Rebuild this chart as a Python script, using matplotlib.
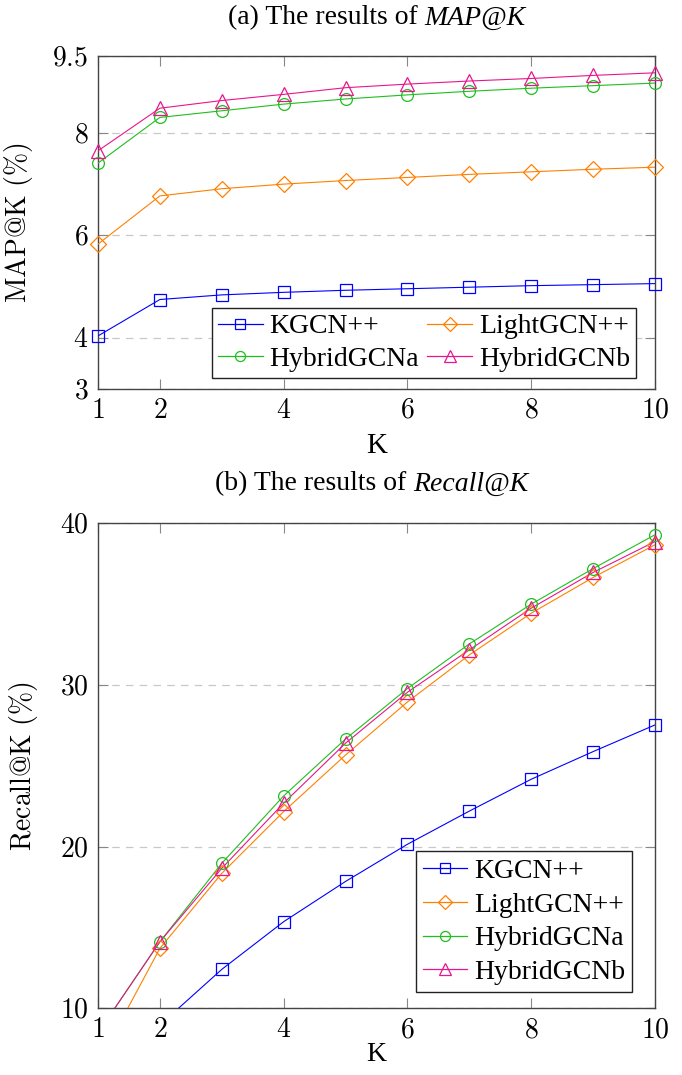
import numpy as np
import matplotlib
matplotlib.use('Agg')
import matplotlib.pyplot as plt
from matplotlib.lines import Line2D

plt.rcParams['font.family'] = ['Liberation Serif', 'DejaVu Serif']
plt.rcParams['mathtext.fontset'] = 'cm'

# data
k = [1, 2, 3, 4, 5, 6, 7, 8, 9, 10]
names = ['KGCN++', 'LightGCN++', 'HybridGCNa', 'HybridGCNb']

map_kgcn = [4.04, 4.75, 4.84, 4.89, 4.93, 4.96, 4.99, 5.02, 5.04, 5.06]
map_light = [5.83, 6.77, 6.91, 7.00, 7.07, 7.13, 7.19, 7.24, 7.29, 7.33]
map_hyba = [7.41, 8.30, 8.43, 8.56, 8.66, 8.74, 8.81, 8.87, 8.92, 8.97]
map_hybb = [7.65, 8.48, 8.63, 8.75, 8.88, 8.95, 9.01, 9.06, 9.12, 9.17]

rec_kgcn = [5.5, 8.97, 12.41, 15.36, 17.85, 20.15, 22.2, 24.17, 25.88, 27.53]
rec_light = [6.58, 13.71, 18.35, 22.17, 25.67, 28.95, 31.86, 34.44, 36.65, 38.67]
rec_hyba = [8.48, 14.12, 18.97, 23.14, 26.66, 29.78, 32.54, 35.0, 37.2, 39.29]
rec_hybb = [8.48, 14.12, 18.66, 22.69, 26.4, 29.55, 32.17, 34.75, 36.96, 38.87]

xticks = [1, 2, 4, 6, 8, 10]
map_yticks = [3, 4, 6, 8, 9.5]
rec_yticks = [10, 20, 30, 40]

colors = ['#0000ff', '#ff8000', '#1fbf1f', '#e8168c']
markers = ['s', 'D', 'o', '^']
msizes = [9, 8, 8.5, 10]

fig = plt.figure(figsize=(6.82, 10.75), dpi=100)
ax1 = fig.add_axes([0.1437, 0.6379, 0.8167, 0.3101])
ax2 = fig.add_axes([0.1437, 0.0620, 0.8167, 0.4512])


def style(ax, yticks, ylim):
    ax.set_xlim(1, 10)
    ax.set_ylim(*ylim)
    ax.set_xticks(xticks)
    ax.set_xticklabels([f'${t}$' for t in xticks])
    ax.set_yticks(yticks)
    ax.set_yticklabels([f'${t}$' for t in yticks])
    ax.tick_params(direction='in', length=7, width=0.8, color='#888888',
                   top=True, right=True, labelsize=20, pad=7)
    ax.yaxis.grid(True, linestyle=(0, (6, 5)), color='#c8c8c8', linewidth=0.9)
    ax.set_axisbelow(True)
    for s in ax.spines.values():
        s.set_color('#444444')
        s.set_linewidth(1.0)


def draw(ax, series, lo):
    for vals, c, m, ms in zip(series, colors, markers, msizes):
        vals = np.array(vals)
        ax.plot(k, vals, color=c, lw=0.8, zorder=3)
        keep = vals >= lo
        ax.plot(np.array(k)[keep], vals[keep], ls='none', marker=m, ms=ms,
                mfc='none', mec=c, mew=0.9, clip_on=False, zorder=4)


style(ax1, map_yticks, (3, 9.5))
draw(ax1, [map_kgcn, map_light, map_hyba, map_hybb], 3)
style(ax2, rec_yticks, (10, 40))
draw(ax2, [rec_kgcn, rec_light, rec_hyba, rec_hybb], 10)

handles = [Line2D([], [], color=c, lw=0.9, marker=m, ms=ms * 0.85, mfc='none', mec=c, mew=0.9)
           for c, m, ms in zip(colors, markers, msizes)]

# row-wise order for the two-column legend
order = [0, 2, 1, 3]
leg1 = ax1.legend([handles[i] for i in order], [names[i] for i in order], ncol=2,
                  loc='lower right', bbox_to_anchor=(0.966, 0.034),
                  borderaxespad=0, fontsize=20, handlelength=1.6, handletextpad=0.25,
                  columnspacing=0.3, labelspacing=0.25, borderpad=0.22, fancybox=False,
                  framealpha=1, edgecolor='#222222')
leg1.get_frame().set_linewidth(1.0)
leg2 = ax2.legend(handles, names, ncol=1, loc='lower right', bbox_to_anchor=(0.9587, 0.0336),
                  borderaxespad=0, fontsize=20, handlelength=1.6, handletextpad=0.25,
                  labelspacing=0.3, borderpad=0.25, fancybox=False,
                  framealpha=1, edgecolor='#222222')
leg2.get_frame().set_linewidth(1.0)

ax1.set_xlabel('K', fontsize=21)
ax1.xaxis.set_label_coords(0.5, -0.131)
ax1.set_ylabel(r'$\mathrm{MAP@K\ (\%)}$', fontsize=20)
ax1.yaxis.set_label_coords(-0.113, 0.5)
ax2.set_xlabel('K', fontsize=20)
ax2.xaxis.set_label_coords(0.5, -0.07)
ax2.set_ylabel(r'$\mathrm{Recall@K\ (\%)}$', fontsize=20)
ax2.yaxis.set_label_coords(-0.104, 0.5)

# titles: upright prefix followed by italic metric name
renderer = fig.canvas.get_renderer()
for x0, y0, prefix, metric in [(228, 18, '(a) The results of ', 'MAP@K'),
                               (215, 484, '(b) The results of ', 'Recall@K')]:
    t = fig.text(x0 / 682, 1 - y0 / 1075, prefix, ha='left', va='center', fontsize=20)
    w = t.get_window_extent(renderer).width
    fig.text((x0 + w) / 682, 1 - y0 / 1075, metric, ha='left', va='center',
             fontsize=20, style='italic')

fig.savefig('out.png', dpi=100)
